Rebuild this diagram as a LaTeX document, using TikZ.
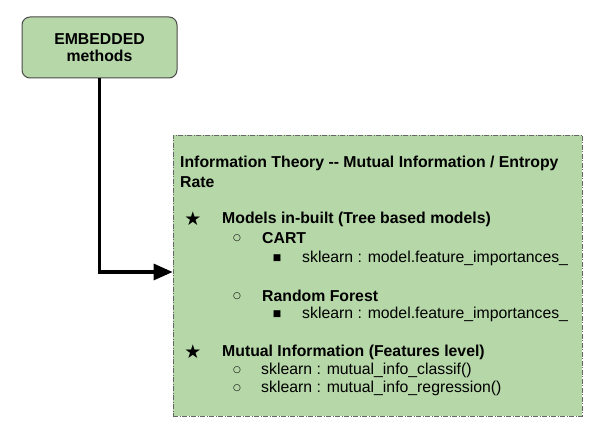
\documentclass[tikz,border=0pt]{standalone}
\usepackage{fontspec}
\setmainfont{Liberation Sans}
\newfontfamily\symfont{DejaVu Sans}
\usetikzlibrary{arrows.meta}
\definecolor{boxgreen}{HTML}{B6D7A8}
\definecolor{boxline}{HTML}{4A4A4A}
\definecolor{dashline}{HTML}{666666}
\begin{document}
\begin{tikzpicture}[x=1pt,y=-1pt,
  txt/.style={anchor=west,inner sep=0pt,font=\fontsize{15.8}{18}\selectfont},
  head/.style={txt,font=\fontsize{15.8}{18}\selectfont\bfseries},
  sym/.style={inner sep=0pt,font=\symfont\fontsize{#1}{#1}\selectfont}]
\useasboundingbox (0,0) rectangle (605,443);

\node[draw=boxline,line width=1pt,fill=boxgreen,rounded corners=8pt,
  minimum width=155pt,minimum height=61pt,align=center,
  font=\fontsize{15.8}{17.5}\selectfont\bfseries] (embedded) at (99.5,47.5) {EMBEDDED\\methods};
\node[draw=dashline,line width=0.8pt,fill=boxgreen,
  dash pattern=on 5pt off 1.5pt on 1pt off 1.5pt,
  minimum width=409pt,minimum height=281pt] (rate) at (377.5,275.5) {};

\draw[line width=3.2pt,-{Triangle[length=19pt,width=16pt]}] (embedded.south) |- ([yshift=3.5pt]rate.west);

\node[head] (title1) at (180,163) {Information Theory -{}- Mutual Information / Entropy};
\node[head] (title2) at (180,182) {Rate};

\node[sym=19] (star1) at (193,219) {★};
\node[head] (models) at (222,219) {Models in-built (Tree based models)};
\node[sym=9] (circ1) at (237,238) {○};
\node[head] (cart) at (262,238) {CART};
\node[sym=9] (sq1) at (277,258) {■};
\node[txt] (cartsk) at (302,258) {sklearn : model.feature\_importances\_};
\node[sym=9] (circ2) at (237,296) {○};
\node[head] (forest) at (262,296) {Random Forest};
\node[sym=9] (sq2) at (277,314) {■};
\node[txt] (forestsk) at (302,314) {sklearn : model.feature\_importances\_};

\node[sym=19] (star2) at (193,352) {★};
\node[head] (mutual) at (222,352) {Mutual Information (Features level)};
\node[sym=9] (circ3) at (237,370) {○};
\node[txt] (classif) at (261,370) {sklearn : mutual\_info\_classif()};
\node[sym=9] (circ4) at (237,388) {○};
\node[txt] (regress) at (261,388) {sklearn : mutual\_info\_regression()};
\end{tikzpicture}
\end{document}
